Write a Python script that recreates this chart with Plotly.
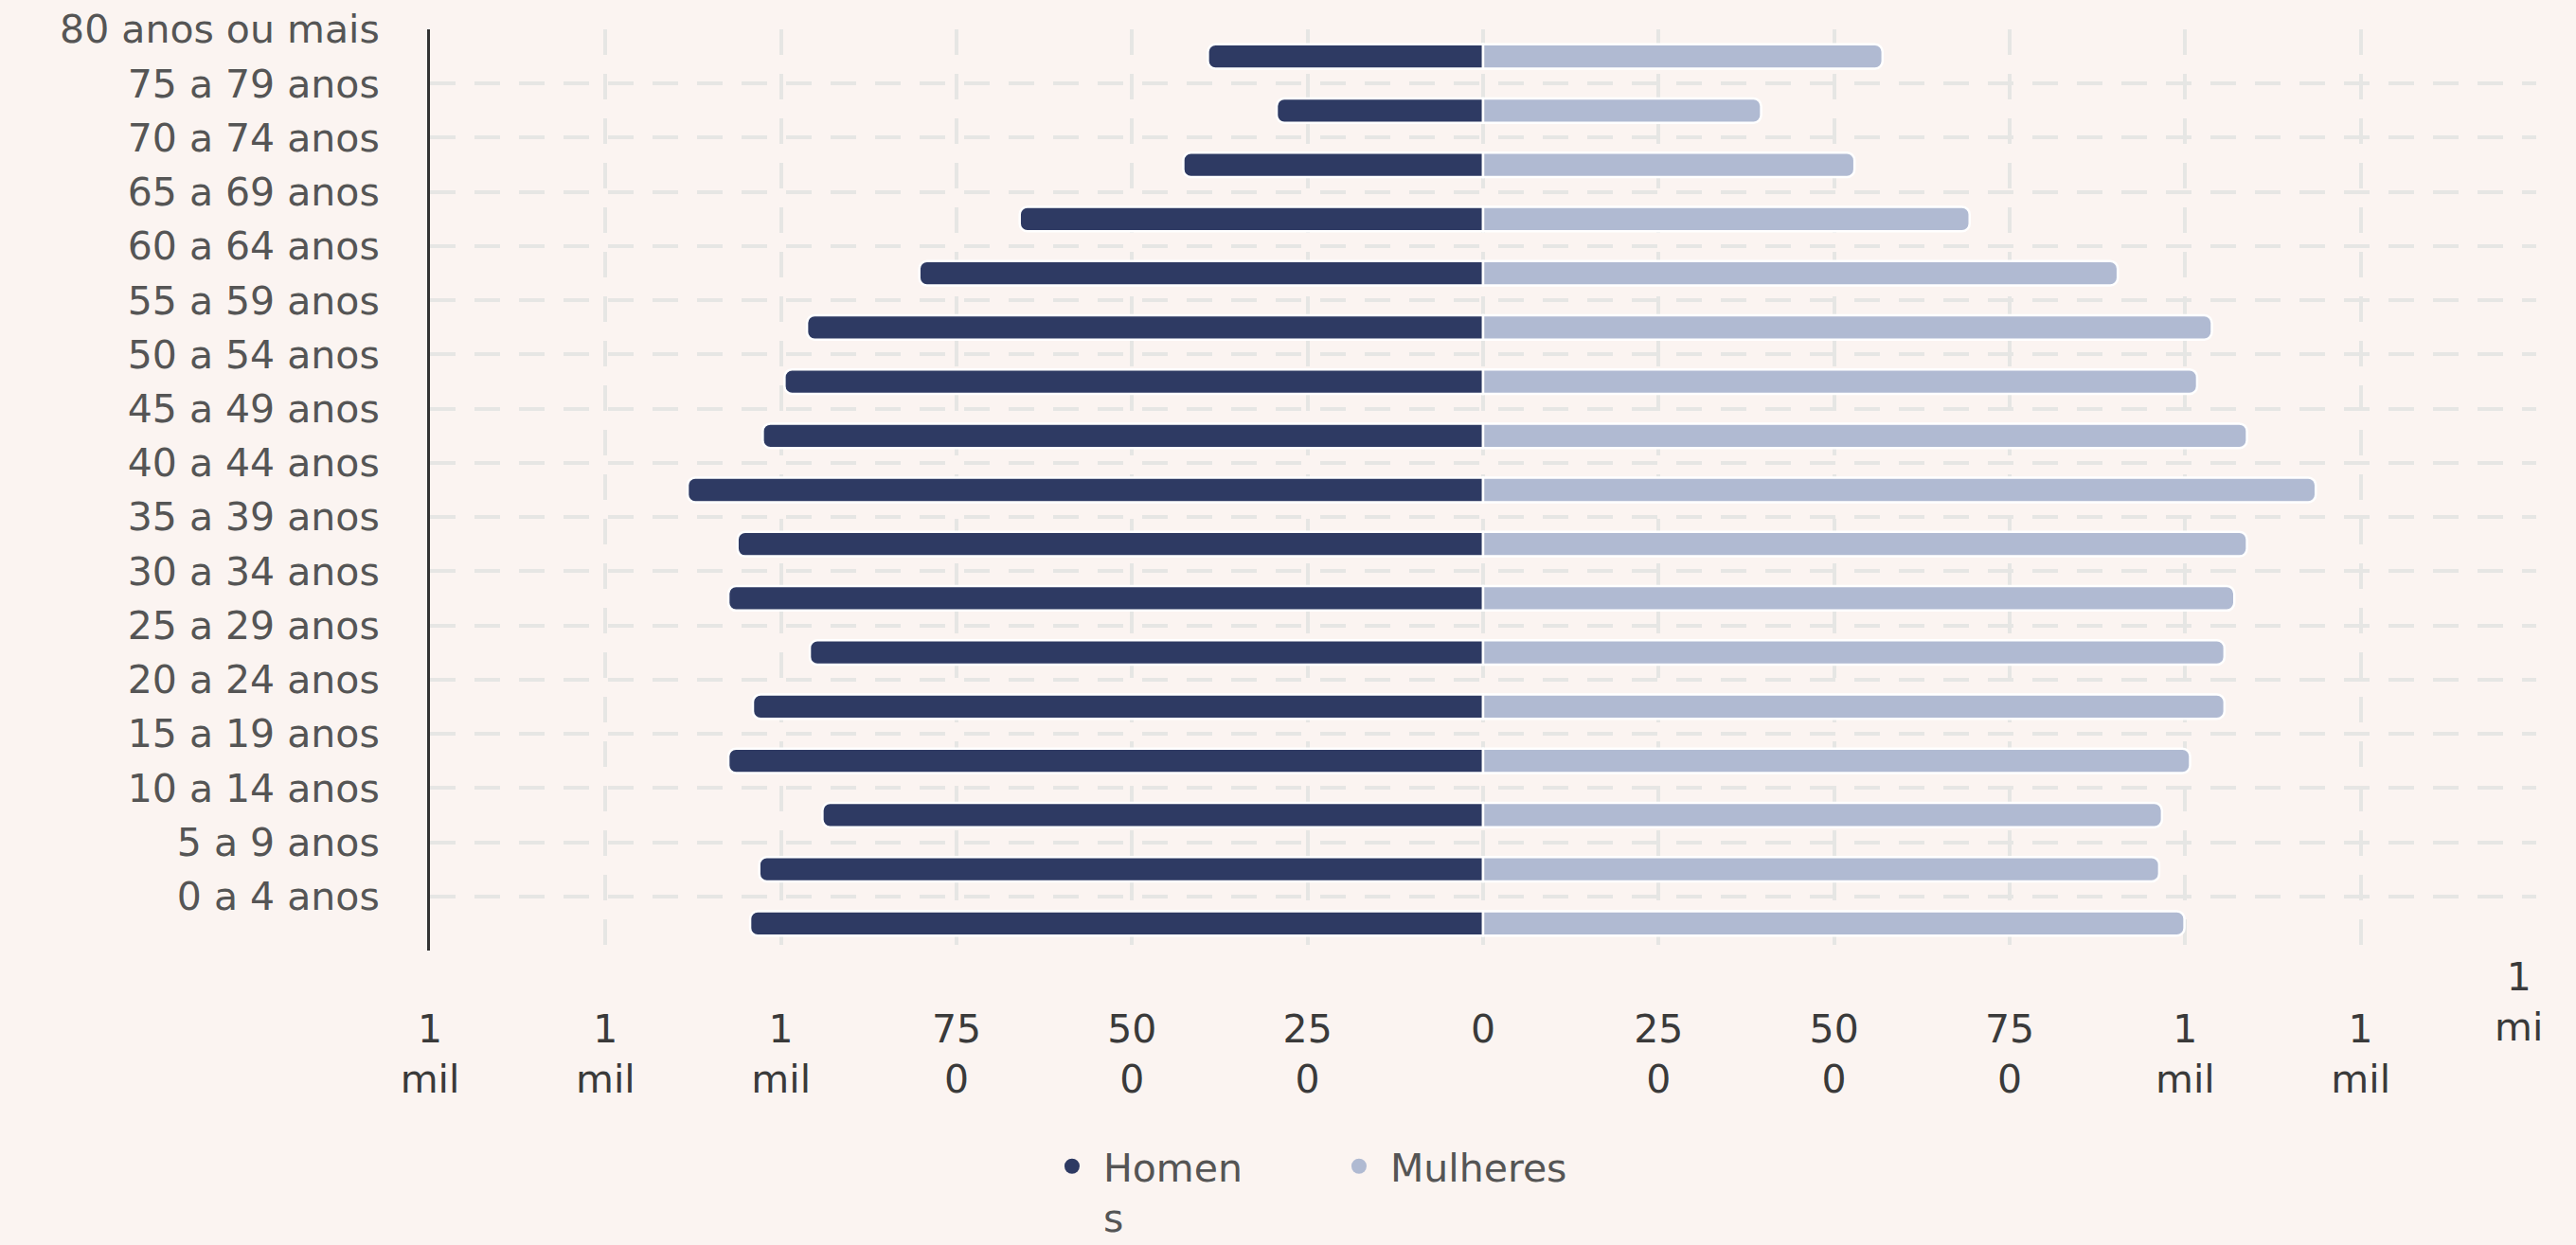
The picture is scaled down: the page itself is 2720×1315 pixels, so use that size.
import plotly.graph_objects as go

# ---- data ----
faixas = ["80 anos ou mais", "75 a 79 anos", "70 a 74 anos", "65 a 69 anos",
          "60 a 64 anos", "55 a 59 anos", "50 a 54 anos", "45 a 49 anos",
          "40 a 44 anos", "35 a 39 anos", "30 a 34 anos", "25 a 29 anos",
          "20 a 24 anos", "15 a 19 anos", "10 a 14 anos", "5 a 9 anos",
          "0 a 4 anos"]
homens = [392, 294, 427, 660, 803, 963, 995, 1026, 1133, 1062, 1075, 959,
          1040, 1075, 941, 1031, 1044]
mulheres = [569, 396, 529, 693, 904, 1038, 1017, 1088, 1186, 1088, 1070,
            1056, 1056, 1007, 967, 963, 999]
x_ticks = [-1500, -1250, -1000, -750, -500, -250, 0, 250, 500, 750, 1000, 1250, 1500]
x_ticktext = ["1<br>mil", "1<br>mil", "1<br>mil", "75<br>0", "50<br>0", "25<br>0", "0",
              "25<br>0", "50<br>0", "75<br>0", "1<br>mil", "1<br>mil", ""]
last_tick_text = "1<br>mi"
legend_names = ["Homen<br>s", "Mulheres"]

COR_H = "#2E3A63"
COR_M = "#B0BAD2"
BG = "#FBF4F1"
GRID = "#E6E6E4"
FONT = "DejaVu Sans"
FS = 41

pos = list(range(len(faixas)))

fig = go.Figure()
fig.add_trace(go.Bar(
    y=pos, x=[-v for v in homens], orientation="h", name="Homens",
    marker=dict(color=COR_H, line=dict(color="white", width=2.5), cornerradius=8),
    customdata=list(zip(faixas, homens)),
    hovertemplate="%{customdata[0]}<br>Homens: %{customdata[1]}<extra></extra>",
    showlegend=False,
))
fig.add_trace(go.Bar(
    y=pos, x=mulheres, orientation="h", name="Mulheres",
    marker=dict(color=COR_M, line=dict(color="white", width=2.5), cornerradius=8),
    customdata=list(zip(faixas, mulheres)),
    hovertemplate="%{customdata[0]}<br>Mulheres: %{customdata[1]}<extra></extra>",
    showlegend=False,
))
# legend entries (circle symbols)
for nome, cor in zip(legend_names, [COR_H, COR_M]):
    fig.add_trace(go.Scatter(
        x=[None], y=[None], mode="markers", name=nome,
        marker=dict(color=cor, size=40, symbol="circle"), showlegend=True,
    ))

fig.update_layout(
    width=2720, height=1315,
    paper_bgcolor=BG, plot_bgcolor=BG,
    barmode="relative", bargap=0.55,
    margin=dict(l=454, r=42, t=31, b=311, autoexpand=False),
    font=dict(family=FONT, size=FS, color="#555555"),
    legend=dict(orientation="h", x=0.29, xanchor="left", y=-0.2, yanchor="top",
                font=dict(size=FS, color="#555555"), valign="top",
                itemsizing="trace", traceorder="normal", itemwidth=56,
                entrywidth=232, bgcolor="rgba(0,0,0,0)"),
    hovermode="closest",
)
fig.update_xaxes(
    range=[-1500, 1500], tickmode="array", tickvals=x_ticks, ticktext=x_ticktext,
    showgrid=True, gridcolor=GRID, griddash="27px,20px", gridwidth=4,
    zeroline=False, showline=False, ticks="", ticklabelstandoff=55,
    tickfont=dict(size=FS, color="#3A3A3A"), automargin=False,
)
fig.update_yaxes(
    range=[len(faixas) - 0.5, -0.5], tickmode="array",
    tickvals=[p - 0.5 for p in pos] + [len(faixas) - 0.5],
    ticktext=faixas + [""],
    showgrid=True, gridcolor=GRID, griddash="27px,20px", gridwidth=4,
    zeroline=False, showline=True, linecolor="#333333", linewidth=3,
    ticks="", ticklabelstandoff=42,
    tickfont=dict(size=FS, color="#555555"), automargin=False,
)
fig.add_annotation(
    x=x_ticks[-1], xref="x", y=0, yref="paper", yshift=-2, xshift=-19,
    text=last_tick_text, showarrow=False, xanchor="center", yanchor="top",
    font=dict(size=FS, color="#3A3A3A"),
)

fig.write_html(
    "out.html",
    config={"displayModeBar": False},
    post_script="document.body.style.margin='0';document.body.style.background='%s';" % BG,
)
